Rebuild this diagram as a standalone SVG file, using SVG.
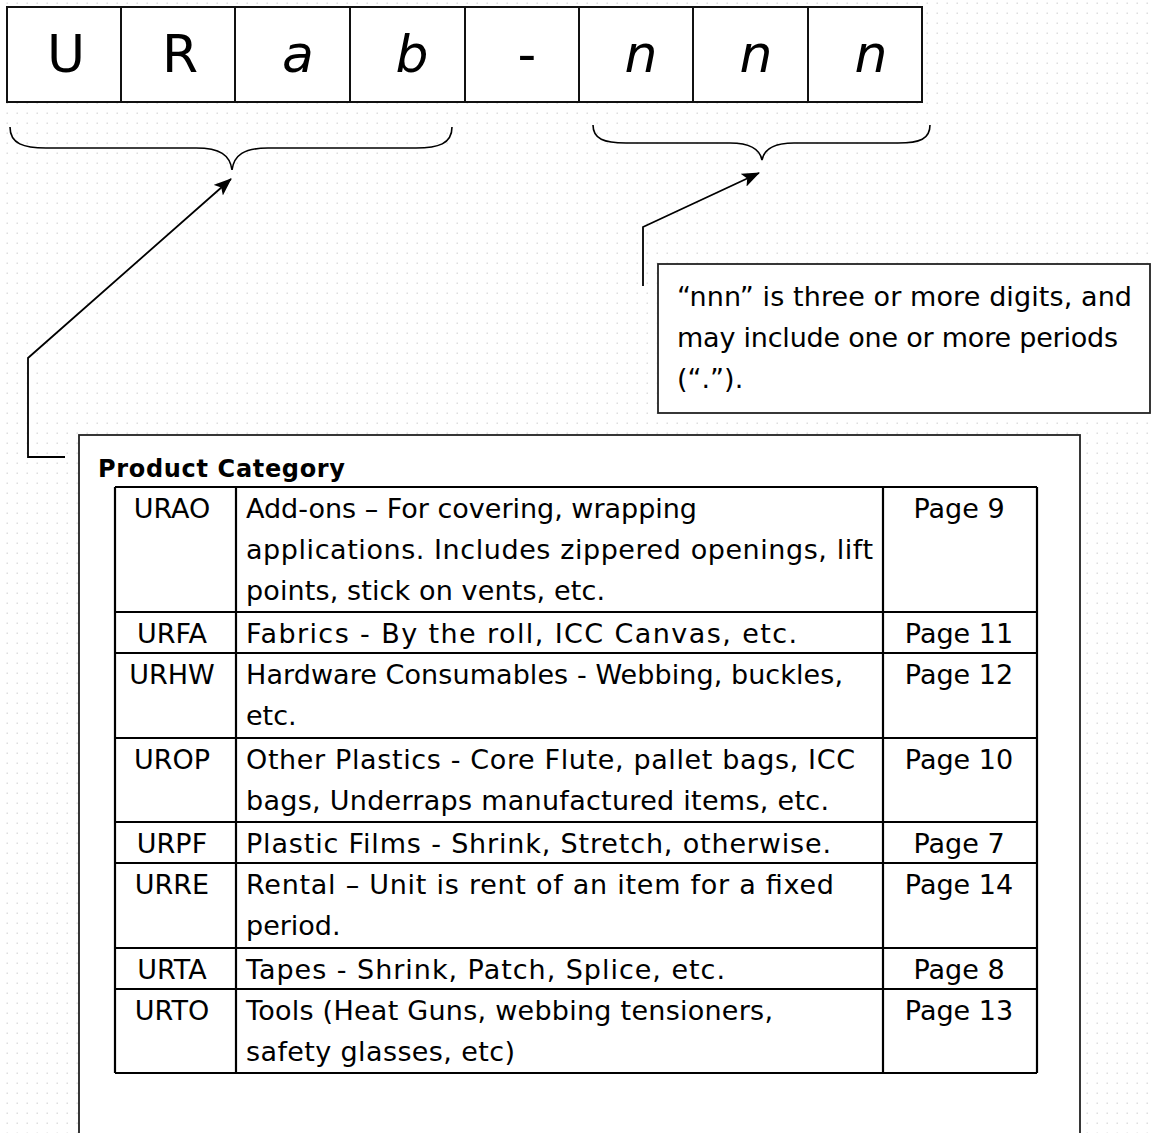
<svg xmlns="http://www.w3.org/2000/svg" width="1152" height="1133" viewBox="0 0 1152 1133">
<defs>
<pattern id="dots" width="10" height="10" patternUnits="userSpaceOnUse">
<rect x="6.5" y="2.5" width="1.5" height="1.5" fill="#dedede"/>
</pattern>
<marker id="arrow" viewBox="0 0 18 14" refX="17" refY="7" markerWidth="18" markerHeight="14" markerUnits="userSpaceOnUse" orient="auto">
<path d="M0,0 L18,7 L0,14 L4,7 z" fill="#000"/>
</marker>
<style>
.t{font-family:"DejaVu Sans","Liberation Sans",sans-serif;font-size:27px;fill:#000}
.big{font-family:"DejaVu Sans","Liberation Sans",sans-serif;font-size:52px;fill:#000;text-anchor:middle}
.it{font-style:italic}
.mid{text-anchor:middle}
.cell{fill:#fff;stroke:#111;stroke-width:2}
.box{fill:#fff;stroke:#222;stroke-width:1.8}
.grid{stroke:#000;stroke-width:2.2;fill:none}
.brace{fill:none;stroke:#000;stroke-width:1.6}
.conn{fill:none;stroke:#000;stroke-width:1.8}
.title{font-family:"DejaVu Sans","Liberation Sans",sans-serif;font-size:24px;font-weight:bold;fill:#000}
</style>
</defs>
<rect width="1152" height="1133" fill="#fff"/>
<rect width="1152" height="1133" fill="url(#dots)"/>

<g id="code-boxes">
<g id="box-U"><rect class="cell" x="7" y="7" width="114" height="95"/><text class="big" x="66" y="72">U</text></g>
<g id="box-R"><rect class="cell" x="121" y="7" width="114" height="95"/><text class="big" x="180" y="72">R</text></g>
<g id="box-a"><rect class="cell" x="235" y="7" width="115" height="95"/><text class="big it" x="298" y="72">a</text></g>
<g id="box-b"><rect class="cell" x="350" y="7" width="115" height="95"/><text class="big it" x="412" y="72">b</text></g>
<g id="box-dash"><rect class="cell" x="465" y="7" width="114" height="95"/><text class="big" x="527" y="72">-</text></g>
<g id="box-n1"><rect class="cell" x="579" y="7" width="114" height="95"/><text class="big it" x="641" y="72">n</text></g>
<g id="box-n2"><rect class="cell" x="693" y="7" width="115" height="95"/><text class="big it" x="756" y="72">n</text></g>
<g id="box-n3"><rect class="cell" x="808" y="7" width="114" height="95"/><text class="big it" x="871" y="72">n</text></g>
</g>

<g id="brace-left">
<path class="brace" d="M10,127 C10,144 24,148 46,148 L196,148 C220,148 230,155 232,170 C234,155 244,148 268,148 L416,148 C438,148 452,144 452,127"/>
</g>
<g id="brace-right">
<path class="brace" d="M593,125 C593,139 604,143 626,143 L730,143 C751,143 760,150 762,160 C764,150 773,143 794,143 L898,143 C920,143 930,139 930,125"/>
</g>

<g id="connectors">
<polyline class="conn" points="65,457 28,457 28,358 231,179" marker-end="url(#arrow)"/>
<polyline class="conn" points="643,286 643,227 759,173" marker-end="url(#arrow)"/>
</g>

<g id="note">
<rect class="box" x="658" y="264" width="492" height="149"/>
<text class="t" x="677" y="306" textLength="455">“nnn” is three or more digits, and</text>
<text class="t" x="677" y="347" textLength="441">may include one or more periods</text>
<text class="t" x="677" y="388">(“.”).</text>
</g>

<g id="product-category">
<rect class="box" x="79" y="435" width="1001" height="710"/>
<text class="title" x="98" y="477" textLength="247">Product Category</text>
<g id="table">
<path class="grid" d="M115,487 H1037 M115,612 H1037 M115,653 H1037 M115,738 H1037 M115,822 H1037 M115,863 H1037 M115,948 H1037 M115,989 H1037 M115,1073 H1037 M115,487 V1073 M236,487 V1073 M883,487 V1073 M1037,487 V1073"/>
<g id="row-URAO">
<text class="t mid" x="172" y="518">URAO</text>
<text class="t" x="246" y="518" textLength="451">Add-ons – For covering, wrapping</text>
<text class="t" x="246" y="559" textLength="627">applications. Includes zippered openings, lift</text>
<text class="t" x="246" y="600" textLength="359">points, stick on vents, etc.</text>
<text class="t mid" x="959" y="518">Page 9</text>
</g>
<g id="row-URFA">
<text class="t mid" x="172" y="643">URFA</text>
<text class="t" x="246" y="643" textLength="551">Fabrics - By the roll, ICC Canvas, etc.</text>
<text class="t mid" x="959" y="643">Page 11</text>
</g>
<g id="row-URHW">
<text class="t mid" x="172" y="684">URHW</text>
<text class="t" x="246" y="684" textLength="597">Hardware Consumables - Webbing, buckles,</text>
<text class="t" x="246" y="725">etc.</text>
<text class="t mid" x="959" y="684">Page 12</text>
</g>
<g id="row-UROP">
<text class="t mid" x="172" y="769">UROP</text>
<text class="t" x="246" y="769" textLength="609">Other Plastics - Core Flute, pallet bags, ICC</text>
<text class="t" x="246" y="810" textLength="583">bags, Underraps manufactured items, etc.</text>
<text class="t mid" x="959" y="769">Page 10</text>
</g>
<g id="row-URPF">
<text class="t mid" x="172" y="853">URPF</text>
<text class="t" x="246" y="853" textLength="585">Plastic Films - Shrink, Stretch, otherwise.</text>
<text class="t mid" x="959" y="853">Page 7</text>
</g>
<g id="row-URRE">
<text class="t mid" x="172" y="894">URRE</text>
<text class="t" x="246" y="894" textLength="588">Rental – Unit is rent of an item for a fixed</text>
<text class="t" x="246" y="935">period.</text>
<text class="t mid" x="959" y="894">Page 14</text>
</g>
<g id="row-URTA">
<text class="t mid" x="172" y="979">URTA</text>
<text class="t" x="246" y="979" textLength="479">Tapes - Shrink, Patch, Splice, etc.</text>
<text class="t mid" x="959" y="979">Page 8</text>
</g>
<g id="row-URTO">
<text class="t mid" x="172" y="1020">URTO</text>
<text class="t" x="246" y="1020" textLength="527">Tools (Heat Guns, webbing tensioners,</text>
<text class="t" x="246" y="1061" textLength="269">safety glasses, etc)</text>
<text class="t mid" x="959" y="1020">Page 13</text>
</g>
</g>
</g>
</svg>
